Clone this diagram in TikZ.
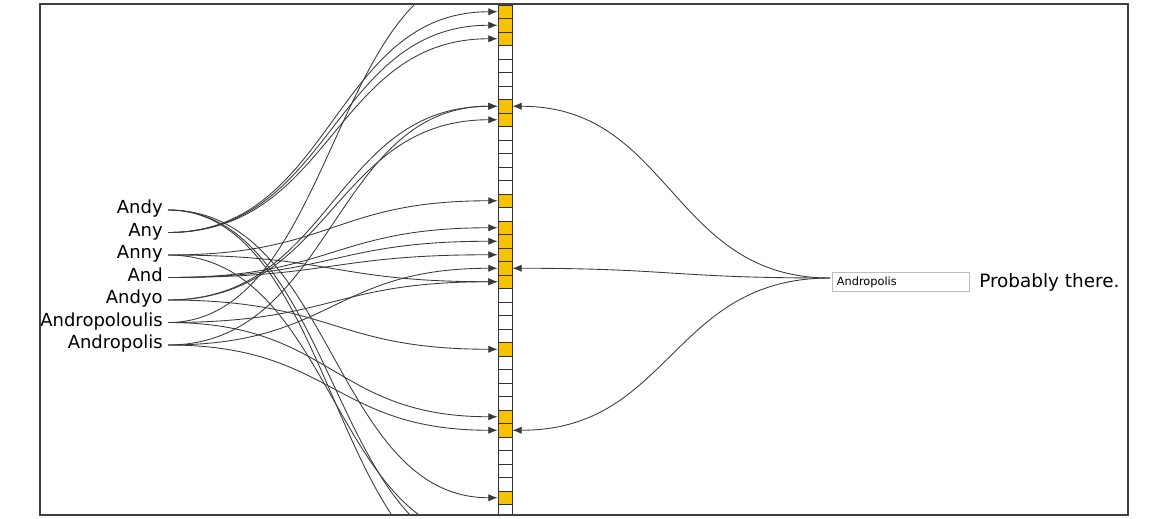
\documentclass[tikz,border=0pt]{standalone}
\usepackage{fontspec}
\setmainfont{DejaVu Sans}
\usepackage{xcolor}
\definecolor{bitGold}{HTML}{F7C300}
\definecolor{linkGrey}{HTML}{3A3A3A}
\definecolor{boxGrey}{HTML}{BDBDBD}
\usetikzlibrary{arrows.meta, calc}

\begin{document}
\begin{tikzpicture}[
    x=0.75pt, y=-0.75pt,
    word/.style={anchor=mid east, inner sep=0pt, inner xsep=3.75pt, font=\fontsize{13.5}{15}\selectfont},
    cell/.style={draw=black!80, fill=white, line width=0.6pt, minimum width=10.5pt, minimum height=10.125pt, inner sep=0pt},
    setcell/.style={cell, fill=bitGold},
    link/.style={draw=linkGrey, line width=0.65pt, -{Latex[length=7pt, width=5.5pt]},
        to path={let \p1=(\tikztostart), \p2=(\tikztotarget) in .. controls ({0.5*\x1+0.5*\x2},\y1) and ({0.5*\x1+0.5*\x2},\y2) .. (\tikztotarget)}}
]
\useasboundingbox (0,0) rectangle (1170,518);

\begin{scope}
\clip (40,4) rectangle (1128,515);

\foreach \i in {-4,...,42}
    \node[cell] (c\i) at (505,{5+13.5*(\i+0.5)}) {};
\foreach \i in {0,1,2,7,8,14,16,17,18,19,20,25,30,31,36}
    \node[setcell] at (c\i.center) {};

\foreach \w [count=\k] in {Andy,Any,Anny,And,Andyo,Andropoloulis,Andropolis}
    \node[word] (\w) at (168,{187.5+22.5*\k}) {\w};

\foreach \w/\cells in {Andy/{36,40,42}, Any/{0,1,2}, Anny/{14,20,39}, And/{16,17,18},
                       Andyo/{7,8,25}, Andropoloulis/{-3,20,30}, Andropolis/{7,19,31}}
    \foreach \i in \cells
        \draw[link] (\w.mid east) to (c\i.west);

\node (query) [draw=boxGrey, line width=0.6pt, anchor=west, minimum width=102.75pt, minimum height=14.25pt,
    inner sep=0pt, inner xsep=3pt, text width=96pt, font=\fontsize{8.5}{9}\selectfont] at (832,282) {Andropolis};
\coordinate (qport) at ([xshift=-1.5pt, yshift=3pt]query.west);
\node (answer) [anchor=base west, inner sep=0pt, font=\fontsize{13.8}{15}\selectfont] at (979,287) {Probably there.};

\foreach \i in {7,19,31}
    \draw[link] (qport) to (c\i.east);
\end{scope}

\draw[black!75, line width=1.1pt] (40,4) rectangle (1128,515);
\end{tikzpicture}
\end{document}
